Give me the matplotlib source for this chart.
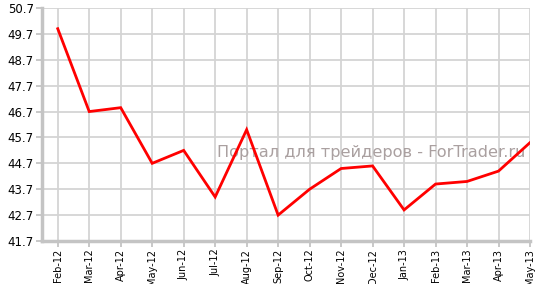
import matplotlib
matplotlib.use("Agg")
import matplotlib.pyplot as plt

months = ["Feb-12", "Mar-12", "Apr-12", "May-12", "Jun-12", "Jul-12", "Aug-12", "Sep-12",
          "Oct-12", "Nov-12", "Dec-12", "Jan-13", "Feb-13", "Mar-13", "Apr-13", "May-13"]
values = [49.9, 46.7, 46.85, 44.7, 45.2, 43.4, 46.0, 42.7,
          43.7, 44.5, 44.6, 42.9, 43.9, 44.0, 44.4, 45.5]
yticks = [41.7, 42.7, 43.7, 44.7, 45.7, 46.7, 47.7, 48.7, 49.7, 50.7]

W, H = 536, 284
fig = plt.figure(figsize=(W / 100, H / 100), dpi=100)
ax = fig.add_axes([42 / W, 1 - 241 / H, (530 - 42) / W, (241 - 8) / H])

x = list(range(len(months)))
ax.plot(x, values, color="#ff0000", lw=2, zorder=3, solid_joinstyle="miter")

ax.set_xlim(-0.5, len(months) - 1)
ax.set_ylim(yticks[0], yticks[-1])
ax.set_xticks(x)
ax.set_xticklabels(months, rotation=90, fontsize=7.0, family="DejaVu Sans")
ax.set_yticks(yticks)
ax.set_yticklabels([f"{v:.1f}" for v in yticks], fontsize=8.5, family="DejaVu Sans")

ax.grid(True, color="#d4d4d4", lw=1.3, zorder=0)
for s in ["top", "right"]:
    ax.spines[s].set_visible(False)
for s in ["left", "bottom"]:
    ax.spines[s].set_color("#c4c4c4")
    ax.spines[s].set_linewidth(2.5)
ax.tick_params(axis="both", colors="#c4c4c4", labelcolor="black", length=4, width=1.3)
ax.tick_params(axis="y", pad=2)
ax.tick_params(axis="x", pad=1.5)

ax.text(0.99, 0.38, "Портал для трейдеров - ForTrader.ru", transform=ax.transAxes,
        ha="right", va="center", fontsize=11.6, color="#aaa0a0", zorder=2)

fig.savefig("out.png", dpi=100)
